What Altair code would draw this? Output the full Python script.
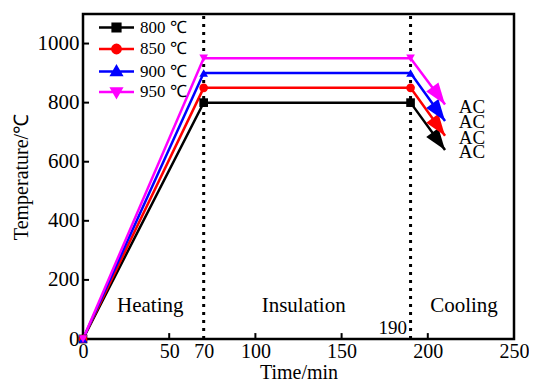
import altair as alt
import pandas as pd

# ---------------- data ----------------
series = ["800 ℃", "850 ℃", "900 ℃", "950 ℃"]
hold_temp = [800, 850, 900, 950]
colors = ["#000000", "#ff0000", "#0000ff", "#ff00ff"]
marker_shapes = ["square", "circle", "triangle-up", "triangle-down"]
key_times = [0, 70, 190]            # start, end of heating, end of insulation
arrow_time = 210                    # tip of the cooling arrows
arrow_temp = [640, 688, 738, 794]   # tip temperature of the cooling arrows
ac_time = 218
ac_temp = [632, 682, 733, 784]
ac_labels = ["AC", "AC", "AC", "AC"]
stage_labels = ["Heating", "Insulation", "Cooling"]
stage_time = [39, 128, 221]
stage_temp = [111, 111, 111]
mark_lines = [70, 190]
extra_label = ["190"]
extra_label_time = [188]
extra_label_temp = [36]
x_tick_labels = [0, 50, 70, 100, 150, 200, 250]
x_tick_marks = [50, 100, 150, 200]
y_tick_labels = [0, 200, 400, 600, 800, 1000]
y_tick_marks = [200, 400, 600, 800, 1000]

FONT = "Liberation Serif"

# ---------------- tables ----------------
rows = []
for s, c, t, e in zip(series, colors, hold_temp, arrow_temp):
    rows += [
        {"series": s, "col": c, "time": key_times[0], "temp": 0, "o": 0},
        {"series": s, "col": c, "time": key_times[1], "temp": t, "o": 1},
        {"series": s, "col": c, "time": key_times[2], "temp": t, "o": 2},
        {"series": s, "col": c, "time": arrow_time, "temp": e, "o": 3},
    ]
df_lines = pd.DataFrame(rows)
df_marks = df_lines[df_lines["o"] < 3]
df_arrows = pd.DataFrame({"series": series, "col": colors, "time": [arrow_time] * 4, "temp": arrow_temp})
df_ac = pd.DataFrame({"label": ac_labels, "time": [ac_time] * 4, "temp": ac_temp})
df_stage = pd.DataFrame({"label": stage_labels, "time": stage_time, "temp": stage_temp})
df_vl = pd.DataFrame({"time": mark_lines, "y0": [0, 0], "y1": [1100, 1100]})
df_190 = pd.DataFrame({"label": extra_label, "time": extra_label_time, "temp": extra_label_temp})
df_xt = pd.DataFrame({"time": x_tick_marks, "y0": [0] * 4, "y1": [20] * 4})
df_yt = pd.DataFrame({"temp": y_tick_marks, "x0": [0] * 5, "x1": [3.5] * 5})
df_leg = pd.DataFrame({"series": series, "time": [-80] * 4, "temp": [500] * 4})

xscale = alt.Scale(domain=[0, 250], nice=False, zero=False)
yscale = alt.Scale(domain=[0, 1100], nice=False)

X = alt.X("time:Q", scale=xscale,
          axis=alt.Axis(title="Time/min", values=x_tick_labels, ticks=False, grid=False, format="d",
                        domain=False, labelPadding=2, titlePadding=1, labelFlush=False,
                        labelFont=FONT, labelFontSize=20, titleFont=FONT, titleFontSize=20))
Y = alt.Y("temp:Q", scale=yscale,
          axis=alt.Axis(title="Temperature/℃", values=y_tick_labels, ticks=False, grid=False, format="d",
                        domain=False, labelPadding=4, titlePadding=6,
                        labelFont=FONT, labelFontSize=21, titleFont=FONT, titleFontSize=20))

lines = alt.Chart(df_lines).mark_line(strokeWidth=2.5).encode(
    x=X, y=Y, order="o:Q",
    color=alt.Color("col:N", scale=None),
    detail="series:N",
)

marker_layers = []
for s, c, sh in zip(series, colors, marker_shapes):
    marker_layers.append(
        alt.Chart(df_marks).transform_filter(alt.datum.series == s)
        .mark_point(filled=True, shape=sh, size=75, color=c, opacity=1)
        .encode(x="time:Q", y="temp:Q")
    )

arrow_path = "M0,0L0.42,1.2L-0.42,1.2Z"
arrows = alt.Chart(df_arrows).mark_point(filled=True, shape=arrow_path, size=1296, angle=144, opacity=1).encode(
    x="time:Q", y="temp:Q",
    color=alt.Color("col:N", scale=None),
)

vlines = alt.Chart(df_vl).mark_rule(color="black", strokeWidth=3, strokeDash=[3, 5]).encode(
    x="time:Q", y="y0:Q", y2="y1:Q")

xticks = alt.Chart(df_xt).mark_rule(color="black", strokeWidth=2).encode(
    x="time:Q", y="y0:Q", y2="y1:Q")
yticks = alt.Chart(df_yt).mark_rule(color="black", strokeWidth=2).encode(
    y="temp:Q", x="x0:Q", x2="x1:Q")

ac_text = alt.Chart(df_ac).mark_text(font=FONT, fontSize=19, align="left", baseline="middle", color="black").encode(
    x="time:Q", y="temp:Q", text="label:N")
stage_text = alt.Chart(df_stage).mark_text(font=FONT, fontSize=21, align="center", baseline="middle", color="black").encode(
    x="time:Q", y="temp:Q", text="label:N")
t190 = alt.Chart(df_190).mark_text(font=FONT, fontSize=19, align="right", baseline="middle", color="black").encode(
    x="time:Q", y="temp:Q", text="label:N")

leg_paths = [
    "M-2.5,0H2.5M-0.55,-0.55H0.55V0.55H-0.55Z",
    "M-2.5,0H2.5M0.6,0A0.6,0.6,0,1,1,-0.6,0A0.6,0.6,0,1,1,0.6,0Z",
    "M-2.5,0H2.5M0,-0.7L0.7,0.5H-0.7Z",
    "M-2.5,0H2.5M0,0.7L0.7,-0.5H-0.7Z",
]
leg = alt.Legend(title=None, orient="none", legendX=25, legendY=5, symbolSize=196,
                 symbolStrokeWidth=2.5, symbolOpacity=1, labelFont=FONT, labelFontSize=17,
                 labelColor="black", labelOffset=15, rowPadding=2.5, padding=0)
legend_layer = alt.Chart(df_leg).mark_point(filled=True, clip=True, strokeWidth=2.5, opacity=1).encode(
    x="time:Q", y="temp:Q",
    fill=alt.Fill("series:N", scale=alt.Scale(domain=series, range=colors), legend=leg),
    stroke=alt.Stroke("series:N", scale=alt.Scale(domain=series, range=colors), legend=leg),
    shape=alt.Shape("series:N", scale=alt.Scale(domain=series, range=leg_paths), legend=leg),
)

chart = alt.layer(
    vlines, xticks, yticks, lines, *marker_layers, arrows, ac_text, stage_text, t190, legend_layer
).properties(
    width=431, height=325, background="white",
    padding={"left": 3, "top": 4, "right": 0, "bottom": 0}
).configure_view(
    stroke="black", strokeWidth=2.5
).configure_axis(
    labelColor="black", titleColor="black", titleFontWeight="normal"
).configure_legend(
    labelFont=FONT, labelFontSize=17, labelColor="black"
)

chart.save("out.html", embed_options={"renderer": "svg", "actions": False})
